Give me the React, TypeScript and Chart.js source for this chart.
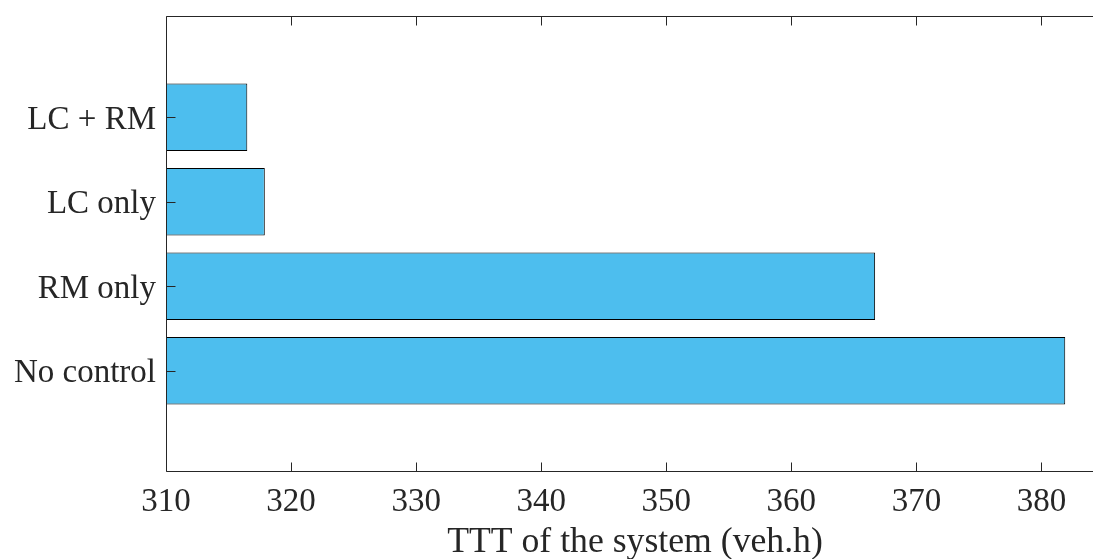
import React, { useEffect, useRef } from 'react';
import { Chart, registerables } from 'chart.js';

Chart.register(...registerables);

// ---- data ----
const CATEGORIES = ['No control', 'RM only', 'LC only', 'LC + RM'];
const CATEGORY_POSITIONS = [1, 2, 3, 4];
const TTT_VALUES = [381.9, 366.7, 317.9, 316.5];
const X_TICKS = [310, 320, 330, 340, 350, 360, 370, 380];
const X_MIN = 310;
const X_MAX = 385;
const Y_MIN = -0.2;
const Y_MAX = 5.2;
const X_TITLE = 'TTT of the system (veh.h)';

// ---- styles ----
const AXIS_COLOR = '#262626';
const BAR_COLOR = '#4DBEEE';
const BAR_EDGE = '#000000';
const FONT_FAMILY = "'Liberation Serif', 'Times New Roman', Times, serif";

const boxPlugin = {
  id: 'matlabBox',
  afterDatasetsDraw(chart: any) {
    const { ctx, chartArea, scales } = chart;
    const x = scales.x;
    const y = scales.y;
    const L = Math.round(chartArea.left) + 0.5;
    const R = Math.round(chartArea.right) - 0.5;
    const T = Math.round(chartArea.top) + 0.5;
    const B = Math.round(chartArea.bottom) - 0.5;
    const TL = 9;
    ctx.save();
    ctx.strokeStyle = AXIS_COLOR;
    ctx.lineWidth = 1;
    ctx.beginPath();
    ctx.moveTo(L, B);
    ctx.lineTo(L, T);
    ctx.lineTo(R, T);
    ctx.lineTo(R, B);
    ctx.lineTo(L, B);
    x.ticks.forEach((t: any) => {
      const px = Math.round(x.getPixelForValue(t.value)) + 0.5;
      ctx.moveTo(px, B);
      ctx.lineTo(px, B - TL);
      ctx.moveTo(px, T);
      ctx.lineTo(px, T + TL);
    });
    y.ticks.forEach((t: any) => {
      const py = Math.round(y.getPixelForValue(t.value)) + 0.5;
      ctx.moveTo(L, py);
      ctx.lineTo(L + TL, py);
      ctx.moveTo(R, py);
      ctx.lineTo(R - TL, py);
    });
    ctx.stroke();
    ctx.restore();
  },
};

export default function App() {
  const canvasRef = useRef<HTMLCanvasElement | null>(null);

  useEffect(() => {
    const canvas = canvasRef.current;
    if (!canvas) return;
    const chart = new Chart(canvas, {
      type: 'bar',
      data: {
        datasets: [
          {
            data: TTT_VALUES.map((v, i) => ({ x: v, y: CATEGORY_POSITIONS[i] })),
            base: X_MIN,
            backgroundColor: BAR_COLOR,
            borderColor: BAR_EDGE,
            borderWidth: 1,
            borderSkipped: false,
            categoryPercentage: 1,
            barPercentage: 0.8,
            inflateAmount: 0,
          } as any,
        ],
      },
      plugins: [boxPlugin],
      options: {
        indexAxis: 'y',
        animation: false,
        responsive: false,
        devicePixelRatio: 1,
        layout: { padding: { top: 16, right: 6, bottom: 0, left: 0 } },
        plugins: {
          legend: { display: false },
          tooltip: { enabled: false },
        },
        scales: {
          x: {
            type: 'linear',
            position: 'bottom',
            min: X_MIN,
            max: X_MAX,
            offset: false,
            grid: { display: false, drawTicks: false },
            border: { display: false },
            afterBuildTicks: (scale: any) => {
              scale.ticks = X_TICKS.map((v) => ({ value: v }));
            },
            afterFit: (scale: any) => {
              scale.height = 87;
              scale.paddingLeft = 0;
              scale.paddingRight = 0;
            },
            ticks: {
              autoSkip: false,
              maxRotation: 0,
              padding: 11,
              color: AXIS_COLOR,
              font: { family: FONT_FAMILY, size: 33 },
              callback: (v: any) => String(v),
            },
            title: {
              display: true,
              text: X_TITLE,
              color: AXIS_COLOR,
              padding: 0,
              font: { family: FONT_FAMILY, size: 35.7, lineHeight: 0.9 },
            },
          },
          y: {
            type: 'linear',
            position: 'left',
            min: Y_MIN,
            max: Y_MAX,
            offset: false,
            grid: { display: false, drawTicks: false, offset: false },
            border: { display: false },
            afterBuildTicks: (scale: any) => {
              scale.ticks = CATEGORY_POSITIONS.map((v) => ({ value: v }));
            },
            afterFit: (scale: any) => {
              scale.width = 166;
              scale.paddingTop = 0;
              scale.paddingBottom = 0;
            },
            ticks: {
              autoSkip: false,
              padding: 10,
              labelOffset: 3,
              color: AXIS_COLOR,
              font: { family: FONT_FAMILY, size: 33 },
              callback: (v: any) => {
                const idx = CATEGORY_POSITIONS.indexOf(Number(v));
                return idx >= 0 ? CATEGORIES[idx] : '';
              },
            },
          },
        },
      } as any,
    });
    return () => chart.destroy();
  }, []);

  return (
    <div
      style={{
        position: 'absolute',
        left: 0,
        top: 0,
        width: 1093,
        height: 559,
        overflow: 'hidden',
        background: '#ffffff',
      }}
    >
      <canvas ref={canvasRef} width={1110} height={559} style={{ display: 'block' }} />
    </div>
  );
}
